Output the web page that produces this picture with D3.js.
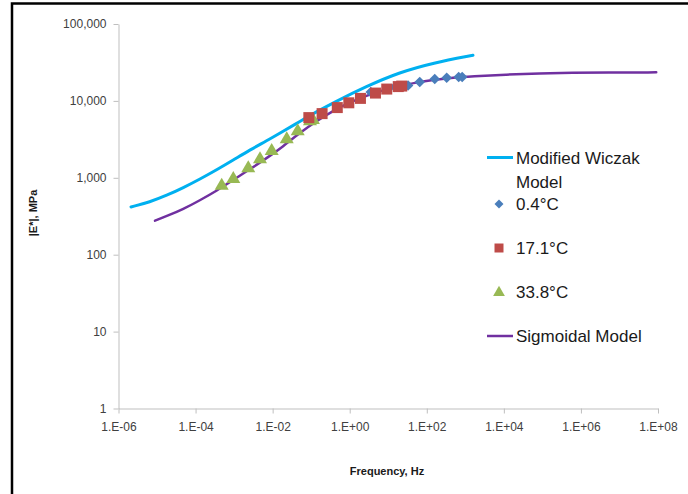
<!DOCTYPE html>
<html><head><meta charset="utf-8">
<script src="https://cdn.jsdelivr.net/npm/d3@7"></script>
<style>
html,body{margin:0;padding:0;background:#fff;}
svg{display:block;}
</style></head>
<body>
<svg id="chart" width="688" height="494"></svg>
<script>
// ---- data ----
const xTickValues = [1e-6, 1e-4, 1e-2, 1e0, 1e2, 1e4, 1e6, 1e8];
const yTickValues = [1, 10, 100, 1000, 10000, 100000];

// Modified Wiczak Model curve
const wiczakFreq = [2.11e-6, 6.56e-6, 1.78e-5, 4.79e-5, 1.30e-4, 3.52e-4, 9.46e-4, 2.56e-3, 6.95e-3, 1.87e-2, 5.08e-2, 0.138, 0.371, 2.72, 19.9, 145, 1580];
const wiczakE    = [418, 485, 590, 743, 962, 1268, 1698, 2301, 3020, 4027, 5408, 7211, 9441, 15490, 23600, 31190, 39260];

// Sigmoidal Model curve
const sigmoidFreq = [8.87e-6, 1.78e-5, 4.79e-5, 1.30e-4, 3.36e-4, 1.05e-3, 2.33e-3, 8.53e-3, 0.0172, 0.0508, 0.138, 0.371, 1.0, 2.72, 7.33, 19.9, 53.8, 145, 394, 1580, 11600, 84700, 608000, 4540000, 90000000];
const sigmoidE    = [277, 318, 391, 511, 668, 966, 1253, 1928, 2483, 3846, 5483, 7447, 9550, 11720, 13800, 15700, 17340, 18750, 19910, 20890, 21980, 22800, 23230, 23440, 23500];

// Measured data
const t04Freq  = [3.52, 14.8, 32.7, 65.6, 161, 329, 673, 830];
const t04E     = [13020, 15130, 15830, 17570, 19220, 19990, 20420, 20420];
const t171Freq = [0.087, 0.192, 0.476, 0.947, 1.90, 4.66, 9.14, 18.2, 22.4];
const t171E    = [6064, 6833, 8185, 9446, 10780, 12640, 14250, 15350, 15590];
const t338Freq = [4.76e-4, 9.53e-4, 2.33e-3, 4.70e-3, 9.45e-3, 0.0232, 0.0447, 0.0931, 0.111];
const t338E    = [789, 965, 1330, 1741, 2230, 3167, 4027, 5430, 5645];

const legendLabels = ["Modified Wiczak", "Model", "0.4°C", "17.1°C", "33.8°C", "Sigmoidal Model"];
const xTitle = "Frequency, Hz";
const yTitle = "|E*|, MPa";

// ---- drawing ----
const svg = d3.select("#chart");
const font = "'Liberation Sans', Arial, sans-serif";
const C = {cyan:"#00b0f0", purple:"#7030a0", blue:"#4a7ebb", red:"#be4b48", green:"#98b954", axis:"#bfbfbf", tick:"#404040"};

// outer frame
svg.append("rect").attr("x", 12).attr("y", 3.5).attr("width", 720).attr("height", 520)
  .attr("fill", "none").attr("stroke", "#000").attr("stroke-width", 2.5);

const x = d3.scaleLog().domain([1e-6, 1e8]).range([118.5, 658]);
const y = d3.scaleLog().domain([1, 1e5]).range([408.5, 24]);

const xFmt = d => { const e = Math.round(Math.log10(d)); return "1.E" + (e < 0 ? "-" : "+") + String(Math.abs(e)).padStart(2, "0"); };

const gx = svg.append("g").attr("transform", `translate(0,${y(1)})`)
  .call(d3.axisBottom(x).tickValues(xTickValues).tickFormat(xFmt).tickSize(5).tickSizeOuter(0).tickPadding(9));
const gy = svg.append("g").attr("transform", `translate(${x(1e-6)},0)`)
  .call(d3.axisLeft(y).tickValues(yTickValues).tickFormat(d3.format(",")).tickSize(5).tickSizeOuter(0).tickPadding(7));
[gx, gy].forEach(g => {
  g.select(".domain").attr("stroke", C.axis);
  g.selectAll(".tick line").attr("stroke", C.axis);
  g.selectAll(".tick text").attr("fill", C.tick).style("font-family", font).style("font-size", "12px");
});

const line = d3.line().curve(d3.curveBasis);
const pts = (fs, es) => fs.map((f, i) => [x(f), y(es[i])]);

svg.append("path").attr("d", line(pts(wiczakFreq, wiczakE)))
  .attr("fill", "none").attr("stroke", C.cyan).attr("stroke-width", 3).attr("stroke-linecap", "round");
svg.append("path").attr("d", line(pts(sigmoidFreq, sigmoidE)))
  .attr("fill", "none").attr("stroke", C.purple).attr("stroke-width", 2.5).attr("stroke-linecap", "round");

const diamond = d3.symbol().type(d3.symbolSquare).size(56)();
const square = d3.symbol().type(d3.symbolSquare).size(121)();
const triangle = d3.symbol().type(d3.symbolTriangle).size(85)();

function markers(fs, es, path, color, rot) {
  svg.append("g").selectAll("path").data(fs.map((f, i) => [f, es[i]])).join("path")
    .attr("d", path).attr("fill", color)
    .attr("transform", d => `translate(${x(d[0])},${y(d[1])})` + (rot ? ` rotate(${rot})` : ""));
}
markers(t338Freq, t338E, triangle, C.green, 0);
markers(t04Freq, t04E, diamond, C.blue, 45);
markers(t171Freq, t171E, square, C.red, 0);

// legend
const lg = svg.append("g").style("font-family", font).style("font-size", "17px").attr("fill", "#1a1a1a");
lg.append("line").attr("x1", 487).attr("x2", 513).attr("y1", 157.5).attr("y2", 157.5).attr("stroke", C.cyan).attr("stroke-width", 3);
lg.append("text").attr("x", 516).attr("y", 164).text(legendLabels[0]);
lg.append("text").attr("x", 516).attr("y", 188).text(legendLabels[1]);
lg.append("path").attr("d", d3.symbol().type(d3.symbolSquare).size(40)()).attr("fill", C.blue).attr("transform", "translate(499,204) rotate(45)");
lg.append("text").attr("x", 516).attr("y", 209.5).text(legendLabels[2]);
lg.append("path").attr("d", d3.symbol().type(d3.symbolSquare).size(81)()).attr("fill", C.red).attr("transform", "translate(499,248)");
lg.append("text").attr("x", 516).attr("y", 253.5).text(legendLabels[3]);
lg.append("path").attr("d", d3.symbol().type(d3.symbolTriangle).size(60)()).attr("fill", C.green).attr("transform", "translate(499,292.5)");
lg.append("text").attr("x", 516).attr("y", 297.5).text(legendLabels[4]);
lg.append("line").attr("x1", 487).attr("x2", 513).attr("y1", 336).attr("y2", 336).attr("stroke", C.purple).attr("stroke-width", 2.5);
lg.append("text").attr("x", 516).attr("y", 341.5).text(legendLabels[5]);

// axis titles
svg.append("text").attr("x", 387).attr("y", 475).attr("text-anchor", "middle")
  .style("font-family", font).style("font-size", "11px").style("font-weight", "bold").attr("fill", "#1a1a1a").text(xTitle);
svg.append("text").attr("transform", "translate(37,213) rotate(-90)").attr("text-anchor", "middle")
  .style("font-family", font).style("font-size", "11px").style("font-weight", "bold").attr("fill", "#1a1a1a").text(yTitle);
</script>
</body></html>
